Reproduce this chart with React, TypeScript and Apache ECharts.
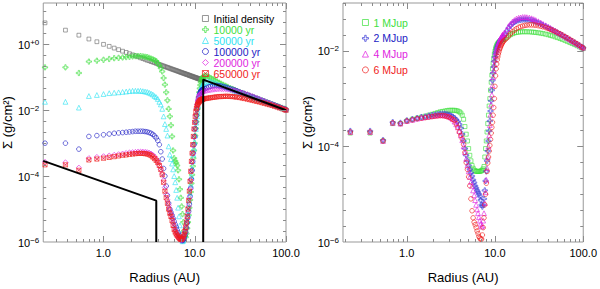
import React, { useEffect, useRef } from 'react';
import * as echarts from 'echarts';

const FONT = '"Liberation Sans", Arial, Helvetica, sans-serif';

// shared radial grid (AU)
const radius = [
  0.23, 0.385, 0.54, 0.695, 0.85, 1.005, 1.16, 1.315, 1.47, 1.625,
  1.78, 1.935, 2.09, 2.245, 2.4, 2.555, 2.71, 2.865, 3.02, 3.175,
  3.33, 3.485, 3.64, 3.795, 3.95, 4.105, 4.26, 4.415, 4.57, 4.725,
  4.88, 5.035, 5.19, 5.345, 5.5, 5.655, 5.81, 5.965, 6.12, 6.275,
  6.43, 6.585, 6.74, 6.895, 7.05, 7.205, 7.36, 7.515, 7.67, 7.825,
  7.98, 8.135, 8.29, 8.445, 8.6, 8.755, 8.91, 9.065, 9.22, 9.375,
  9.53, 9.685, 9.84, 9.995, 10.15, 10.305, 10.46, 10.615, 10.77, 10.925,
  11.08, 11.235, 11.39, 11.545, 11.7, 11.855, 12.01, 12.165, 12.32, 12.475,
  13, 13.6, 14.3, 15, 15.8, 16.6, 17.5, 18.5, 19.5, 20.6,
  21.8, 23, 24.5, 26, 27.5, 29, 31, 33, 35, 37.5,
  40, 42.5, 45, 48, 51, 54.5, 58, 62, 66, 70.5,
  75, 80, 85, 90.5, 96, 100,
];

// ---- left panel: surface density at several times ----
const initialDensity = [
  4.5, 2.7, 1.9, 1.45, 1.2, 1.0, 0.87, 0.77, 0.69, 0.62,
  0.57, 0.52, 0.48, 0.45, 0.42, 0.39, 0.37, 0.35, 0.33, 0.32,
  0.30, 0.29, 0.28, 0.265, 0.255, 0.245, 0.235, 0.227, 0.22, 0.212,
  0.205, 0.2, 0.193, 0.188, 0.182, 0.177, 0.172, 0.168, 0.164, 0.16,
  0.156, 0.152, 0.149, 0.145, 0.142, 0.139, 0.136, 0.133, 0.131, 0.128,
  0.126, 0.123, 0.121, 0.119, 0.117, 0.114, 0.112, 0.11, 0.109, 0.107,
  0.105, 0.103, 0.102, 0.1, 0.099, 0.097, 0.096, 0.094, 0.093, 0.092,
  0.09, 0.089, 0.088, 0.087, 0.086, 0.085, 0.084, 0.083, 0.082, 0.081,
];

const yr10000 = [
  0.2, 0.2, 0.135, 0.3, 0.32, 0.34, 0.36, 0.38, 0.39, 0.40,
  0.41, 0.42, 0.43, 0.44, 0.44, 0.44, 0.43, 0.42, 0.41, 0.39,
  0.37, 0.35, 0.33, 0.31, 0.27, 0.23, 0.19, 0.15, 0.095, 0.06,
  0.035, 0.02, 0.011, 0.0065, 0.0035, 0.0016, 6e-4, 3.5e-4, 2.9e-4, 2.5e-4,
  2.1e-4, 1.5e-4, 8e-5, 4e-5, 2.2e-5, 1.2e-5, 7e-6, 4e-6, 2.2e-6, 1.5e-6,
  1.4e-6, 1.8e-6, 2.6e-6, 4e-6, 6.5e-6, 1.1e-5, 1.9e-5, 3.3e-5, 6e-5, 1.1e-4,
  2e-4, 3.5e-4, 6e-4, 1e-3, 1.7e-3, 2.8e-3, 4.5e-3, 7e-3, 0.011, 0.017,
  0.025, 0.035, 0.046, 0.058, 0.07, 0.08, 0.089, 0.096, 0.102, 0.106,
  0.11, 0.108, 0.102, 0.095, 0.088, 0.081, 0.075, 0.069, 0.064, 0.059,
  0.055, 0.051, 0.047, 0.044, 0.041, 0.038, 0.0355, 0.0333, 0.0313, 0.0291,
  0.0272, 0.0256, 0.0241, 0.0226, 0.0212, 0.0198, 0.0186, 0.0174, 0.0163, 0.0152,
  0.0143, 0.0134, 0.0126, 0.0118, 0.0111, 0.0105,
];

const yr50000 = [
  0.018, 0.018, 0.012, 0.027, 0.029, 0.031, 0.033, 0.034, 0.035, 0.036,
  0.037, 0.038, 0.039, 0.039, 0.039, 0.039, 0.038, 0.037, 0.036, 0.034,
  0.032, 0.03, 0.027, 0.025, 0.022, 0.018, 0.015, 0.011, 0.0065, 0.0038,
  0.0027, 0.0017, 8e-4, 4.5e-4, 3.3e-4, 2.4e-4, 1.6e-4, 1e-4, 6.5e-5, 3.8e-5,
  2.2e-5, 1.1e-5, 6e-6, 3.2e-6, 1.8e-6, 1.2e-6, 1.05e-6, 1.1e-6, 1.3e-6, 1.6e-6,
  2.1e-6, 3e-6, 4.5e-6, 7e-6, 1.1e-5, 1.8e-5, 3e-5, 5.5e-5, 1e-4, 1.7e-4,
  2.8e-4, 4.5e-4, 7e-4, 1.1e-3, 1.7e-3, 2.7e-3, 4.2e-3, 6.5e-3, 9.5e-3, 0.014,
  0.019, 0.025, 0.031, 0.038, 0.044, 0.05, 0.055, 0.059, 0.062, 0.065,
  0.07, 0.073, 0.074, 0.073, 0.071, 0.068, 0.064, 0.06, 0.057, 0.054,
  0.051, 0.048, 0.045, 0.042, 0.039, 0.037, 0.0345, 0.0323, 0.0305, 0.0285,
  0.0267, 0.0251, 0.0237, 0.0222, 0.0209, 0.0195, 0.0183, 0.0171, 0.016, 0.015,
  0.0141, 0.0132, 0.0124, 0.0116, 0.0109, 0.0105,
];

const yr100000 = [
  1e-3, 1e-3, 6.6e-4, 1.6e-3, 1.7e-3, 1.8e-3, 1.9e-3, 2e-3, 2.05e-3, 2.1e-3,
  2.15e-3, 2.2e-3, 2.25e-3, 2.3e-3, 2.3e-3, 2.3e-3, 2.3e-3, 2.25e-3, 2.2e-3, 2.1e-3,
  2e-3, 1.85e-3, 1.65e-3, 1.45e-3, 1.2e-3, 9e-4, 5.5e-4, 3.3e-4, 1.7e-4, 1e-4,
  5e-5, 2.6e-5, 1.5e-5, 1e-5, 8e-6, 6.5e-6, 5.2e-6, 4.2e-6, 3.4e-6, 2.8e-6,
  2.3e-6, 1.9e-6, 1.6e-6, 1.4e-6, 1.25e-6, 1.15e-6, 1.1e-6, 1.15e-6, 1.3e-6, 1.6e-6,
  2e-6, 2.7e-6, 3.8e-6, 5.5e-6, 8.5e-6, 1.4e-5, 2.4e-5, 4.3e-5, 8e-5, 1.5e-4,
  2.8e-4, 5e-4, 9e-4, 1.6e-3, 2.8e-3, 4.5e-3, 7e-3, 0.0105, 0.015, 0.02,
  0.025, 0.029, 0.033, 0.036, 0.038, 0.04, 0.041, 0.042, 0.043, 0.044,
  0.045, 0.048, 0.051, 0.053, 0.055, 0.056, 0.056, 0.055, 0.054, 0.052,
  0.05, 0.048, 0.045, 0.043, 0.041, 0.039, 0.036, 0.034, 0.032, 0.0298,
  0.0278, 0.026, 0.0245, 0.023, 0.0215, 0.0201, 0.0188, 0.0175, 0.0164, 0.0153,
  0.0143, 0.0134, 0.0125, 0.0117, 0.011, 0.0105,
];

const yr200000 = [
  2.7e-4, 2.6e-4, 1.8e-4, 3.5e-4, 3.8e-4, 4e-4, 4.2e-4, 4.4e-4, 4.6e-4, 4.8e-4,
  5e-4, 5.2e-4, 5.3e-4, 5.4e-4, 5.5e-4, 5.5e-4, 5.5e-4, 5.4e-4, 5.3e-4, 5.1e-4,
  4.8e-4, 4.4e-4, 3.9e-4, 3.3e-4, 2.7e-4, 2.1e-4, 1.6e-4, 1.15e-4, 7.5e-5, 4.5e-5,
  2.8e-5, 1.9e-5, 1.3e-5, 9.5e-6, 7e-6, 5.2e-6, 3.8e-6, 2.9e-6, 2.3e-6, 1.9e-6,
  1.6e-6, 1.4e-6, 1.3e-6, 1.2e-6, 1.15e-6, 1.15e-6, 1.2e-6, 1.35e-6, 1.6e-6, 2e-6,
  2.6e-6, 3.5e-6, 5e-6, 7.5e-6, 1.2e-5, 2.2e-5, 4e-5, 7.5e-5, 1.4e-4, 2.6e-4,
  4.8e-4, 8.5e-4, 1.5e-3, 2.6e-3, 4.3e-3, 7e-3, 0.011, 0.015, 0.019, 0.022,
  0.025, 0.027, 0.029, 0.031, 0.032, 0.033, 0.034, 0.035, 0.036, 0.037,
  0.038, 0.039, 0.04, 0.041, 0.042, 0.043, 0.0435, 0.044, 0.044, 0.0438,
  0.0433, 0.0425, 0.0415, 0.0402, 0.039, 0.0375, 0.0357, 0.034, 0.0322, 0.0302,
  0.0283, 0.0265, 0.0249, 0.0232, 0.0216, 0.0201, 0.0187, 0.0174, 0.0162, 0.0151,
  0.0141, 0.0131, 0.0122, 0.0114, 0.0107, 0.0103,
];

const yr650000 = [
  2.2e-4, 2.2e-4, 1.5e-4, 3.1e-4, 3.3e-4, 3.5e-4, 3.7e-4, 3.9e-4, 4.1e-4, 4.3e-4,
  4.4e-4, 4.6e-4, 4.7e-4, 4.8e-4, 4.9e-4, 4.9e-4, 4.9e-4, 4.8e-4, 4.7e-4, 4.5e-4,
  4.2e-4, 3.8e-4, 3.4e-4, 3e-4, 2.6e-4, 2.1e-4, 1.6e-4, 1.1e-4, 6.5e-5, 3.5e-5,
  2.2e-5, 1.5e-5, 1e-5, 7.5e-6, 6e-6, 4.5e-6, 3.2e-6, 2.4e-6, 2e-6, 1.75e-6,
  1.6e-6, 1.45e-6, 1.35e-6, 1.25e-6, 1.2e-6, 1.2e-6, 1.3e-6, 1.45e-6, 1.7e-6, 2.1e-6,
  2.8e-6, 4e-6, 6e-6, 1e-5, 1.8e-5, 3.5e-5, 7e-5, 1.4e-4, 2.8e-4, 5e-4,
  9e-4, 1.6e-3, 2.7e-3, 4.3e-3, 6.5e-3, 9e-3, 0.0115, 0.0135, 0.015, 0.0165,
  0.0175, 0.0185, 0.0193, 0.02, 0.0205, 0.021, 0.0213, 0.0216, 0.0219, 0.0222,
  0.0225, 0.023, 0.0235, 0.024, 0.0245, 0.025, 0.0255, 0.026, 0.026, 0.0263,
  0.0265, 0.0265, 0.0262, 0.026, 0.0255, 0.025, 0.0243, 0.0235, 0.0227, 0.0218,
  0.021, 0.0202, 0.0194, 0.0186, 0.0178, 0.017, 0.0162, 0.0154, 0.0147, 0.014,
  0.0132, 0.0125, 0.0118, 0.0111, 0.0105, 0.01,
];

// black model lines
const blackInnerR = [0.22, 3.8, 3.8];
const blackInnerS = [2.9e-4, 1.8e-5, 1e-6];
const blackOuterR = [12.4, 12.4, 100];
const blackOuterS = [1e-6, 0.085, 0.01];

// ---- right panel: planet masses ----
const mjup1 = [
  1.9e-4, 1.9e-4, 1.3e-4, 3e-4, 3e-4, 3.4e-4, 3.7e-4, 3.9e-4, 4.1e-4, 4.3e-4,
  4.5e-4, 4.7e-4, 4.9e-4, 5.1e-4, 5.3e-4, 5.4e-4, 5.5e-4, 5.6e-4, 5.7e-4, 5.7e-4,
  5.7e-4, 5.7e-4, 5.6e-4, 5.5e-4, 5.3e-4, 5e-4, 4.5e-4, 3.7e-4, 2.6e-4, 1.8e-4,
  1.3e-4, 9e-5, 6.5e-5, 5e-5, 4e-5, 3.5e-5, 3.2e-5, 3.1e-5, 3e-5, 3e-5,
  3e-5, 3e-5, 3e-5, 3.05e-5, 3.1e-5, 3.2e-5, 3.4e-5, 3.8e-5, 6e-5, 9e-5,
  1.3e-4, 2e-4, 3e-4, 4.5e-4, 7e-4, 1e-3, 1.5e-3, 2.2e-3, 3.1e-3, 4.2e-3,
  5.5e-3, 7e-3, 8.5e-3, 9.8e-3, 0.011, 0.012, 0.0128, 0.0135, 0.0141, 0.0146,
  0.015, 0.0154, 0.0158, 0.0161, 0.0164, 0.0167, 0.017, 0.0172, 0.0174, 0.0176,
  0.0178, 0.019, 0.0205, 0.0218, 0.0228, 0.0236, 0.0242, 0.0246, 0.0249, 0.025,
  0.025, 0.025, 0.0249, 0.0247, 0.0245, 0.0242, 0.0238, 0.0234, 0.0229, 0.0223,
  0.0217, 0.021, 0.0204, 0.0196, 0.0189, 0.0181, 0.0173, 0.0165, 0.0157, 0.0149,
  0.0142, 0.0135, 0.0128, 0.0121, 0.0115, 0.0111,
];

const mjup2 = [
  2.1e-4, 2.1e-4, 1.35e-4, 3.2e-4, 3.1e-4, 3.5e-4, 3.7e-4, 3.9e-4, 4.1e-4, 4.2e-4,
  4.4e-4, 4.5e-4, 4.6e-4, 4.7e-4, 4.8e-4, 4.8e-4, 4.8e-4, 4.7e-4, 4.6e-4, 4.4e-4,
  4.2e-4, 3.9e-4, 3.6e-4, 3.3e-4, 2.9e-4, 2.4e-4, 1.8e-4, 1.3e-4, 9e-5, 6.5e-5,
  5e-5, 4e-5, 3.3e-5, 2.8e-5, 2.4e-5, 2e-5, 1.75e-5, 1.5e-5, 1.35e-5, 1.2e-5,
  1.1e-5, 1e-5, 9e-6, 7.5e-6, 6e-6, 5.5e-6, 6e-6, 8e-6, 1.2e-5, 1.9e-5,
  3e-5, 5e-5, 8e-5, 1.3e-4, 2.1e-4, 3.4e-4, 5.5e-4, 9e-4, 1.5e-3, 2.4e-3,
  3.4e-3, 4.6e-3, 6e-3, 7.3e-3, 8.5e-3, 9.6e-3, 0.0107, 0.0117, 0.0126, 0.0134,
  0.0142, 0.015, 0.0157, 0.0164, 0.017, 0.0176, 0.0182, 0.0188, 0.0194, 0.02,
  0.022, 0.026, 0.03, 0.034, 0.037, 0.04, 0.042, 0.0435, 0.0445, 0.045,
  0.0452, 0.045, 0.0445, 0.0435, 0.042, 0.0405, 0.0385, 0.0365, 0.0345, 0.0325,
  0.0305, 0.0287, 0.0271, 0.0255, 0.024, 0.0225, 0.0211, 0.0197, 0.0184, 0.0171,
  0.016, 0.0149, 0.0139, 0.013, 0.0121, 0.0116,
];

const mjup4 = [
  2e-4, 2e-4, 1.3e-4, 3.1e-4, 3e-4, 3.4e-4, 3.6e-4, 3.8e-4, 3.95e-4, 4.1e-4,
  4.2e-4, 4.3e-4, 4.4e-4, 4.5e-4, 4.5e-4, 4.5e-4, 4.45e-4, 4.35e-4, 4.2e-4, 4e-4,
  3.7e-4, 3.3e-4, 2.9e-4, 2.5e-4, 2.1e-4, 1.7e-4, 1.35e-4, 1e-4, 7.5e-5, 5.5e-5,
  4e-5, 3e-5, 2.3e-5, 1.8e-5, 1.5e-5, 1.2e-5, 9.5e-6, 7.5e-6, 6e-6, 4.8e-6,
  4e-6, 3.3e-6, 2.8e-6, 2.4e-6, 2.1e-6, 2.2e-6, 2.8e-6, 4e-6, 6.5e-6, 1.1e-5,
  2e-5, 3.5e-5, 6e-5, 1e-4, 1.7e-4, 2.8e-4, 4.6e-4, 7.5e-4, 1.2e-3, 1.9e-3,
  2.8e-3, 3.9e-3, 5.2e-3, 6.6e-3, 8e-3, 9.3e-3, 0.0106, 0.0118, 0.013, 0.0141,
  0.0152, 0.0162, 0.0172, 0.0181, 0.019, 0.0198, 0.0206, 0.0213, 0.022, 0.0226,
  0.024, 0.028, 0.033, 0.037, 0.041, 0.044, 0.047, 0.049, 0.05, 0.051,
  0.051, 0.0505, 0.0495, 0.048, 0.046, 0.044, 0.0415, 0.039, 0.0367, 0.0342,
  0.032, 0.03, 0.0282, 0.0264, 0.0247, 0.023, 0.0215, 0.02, 0.0186, 0.0173,
  0.0161, 0.015, 0.014, 0.013, 0.0121, 0.0116,
];

const mjup6 = [
  2e-4, 2e-4, 1.3e-4, 3.1e-4, 3e-4, 3.4e-4, 3.6e-4, 3.8e-4, 3.9e-4, 4e-4,
  4.1e-4, 4.2e-4, 4.3e-4, 4.35e-4, 4.4e-4, 4.4e-4, 4.35e-4, 4.2e-4, 4.1e-4, 3.9e-4,
  3.7e-4, 3.5e-4, 3e-4, 2.5e-4, 2e-4, 1.7e-4, 1.45e-4, 1.1e-4, 7.5e-5, 4.6e-5,
  3.3e-5, 2.3e-5, 1.5e-5, 8e-6, 4.5e-6, 3.2e-6, 2.6e-6, 2.3e-6, 2e-6, 1.7e-6,
  1.5e-6, 1.3e-6, 1.2e-6, 1.15e-6, 1.15e-6, 1.4e-6, 2e-6, 3.2e-6, 6e-6, 1e-5,
  1.7e-5, 3e-5, 4.5e-5, 6e-5, 8e-5, 1.05e-4, 1.4e-4, 1.9e-4, 2.5e-4, 3.2e-4,
  4.5e-4, 6.5e-4, 1e-3, 1.8e-3, 3e-3, 4.2e-3, 5.3e-3, 6.5e-3, 7.5e-3, 8.5e-3,
  9.5e-3, 0.0105, 0.0113, 0.012, 0.0128, 0.0135, 0.0142, 0.0148, 0.0154, 0.016,
  0.017, 0.0185, 0.0205, 0.023, 0.025, 0.027, 0.029, 0.031, 0.032, 0.033,
  0.034, 0.0345, 0.035, 0.035, 0.0348, 0.0343, 0.0336, 0.0328, 0.0318, 0.0306,
  0.0293, 0.028, 0.0268, 0.0255, 0.0241, 0.0227, 0.0213, 0.0199, 0.0186, 0.0173,
  0.0161, 0.015, 0.014, 0.013, 0.012, 0.0115,
];

// tick values
const xMajorTicks = [1, 10, 100];
const xMinorTicks = [0.2, 0.3, 0.4, 0.5, 0.6, 0.7, 0.8, 0.9, 2, 3, 4, 5, 6, 7, 8, 9, 20, 30, 40, 50, 60, 70, 80, 90];
const yMajorTicks = [1e-6, 1e-4, 1e-2, 1];
const yMinorTicks = [2.154e-6, 4.642e-6, 1e-5, 2.154e-5, 4.642e-5, 2.154e-4, 4.642e-4, 1e-3, 2.154e-3, 4.642e-3,
  2.154e-2, 4.642e-2, 0.1, 0.2154, 0.4642, 2.154, 4.642, 10];

const C = {
  grey: '#6e6e6e',
  green: '#3ee03e',
  cyan: '#2ee2f2',
  blue: '#1c1cc4',
  magenta: '#e01ee0',
  red: '#f01c1c',
  blue2: '#3a3ad8',
};

const SYM_PLUS = 'path://M3,0H5V3H8V5H5V8H3V5H0V3H3Z';
const SYM_BOXX = 'path://M0,0H10V10H0ZM0,0L10,10M10,0L0,10';

const hollow = (c: string) => ({ color: 'rgba(0,0,0,0)', borderColor: c, borderWidth: 0.8 });

function scatter(name: string, grid: number, vals: number[], color: string, symbol: string, size: number) {
  return {
    type: 'scatter',
    name,
    xAxisIndex: grid,
    yAxisIndex: grid,
    symbol,
    symbolSize: size,
    itemStyle: hollow(color),
    clip: true,
    silent: true,
    data: vals.map((v, i) => [radius[i], v]),
  };
}

function tickSeries(grid: number, dim: 'x' | 'y', values: number[], len: number) {
  return {
    type: 'custom',
    xAxisIndex: grid,
    yAxisIndex: grid,
    silent: true,
    clip: true,
    z: 6,
    data: values.map((v) => (dim === 'x' ? [v, 1e-3] : [1, v])),
    renderItem: (params: any, api: any) => {
      const cs = params.coordSys;
      const style = { stroke: '#8a8a8a', lineWidth: 1 };
      if (dim === 'x') {
        const p = Math.round(api.coord([api.value(0), 1e-3])[0]) + 0.5;
        const b = cs.y + cs.height;
        return {
          type: 'group',
          children: [
            { type: 'line', shape: { x1: p, y1: b, x2: p, y2: b - len }, style },
            { type: 'line', shape: { x1: p, y1: cs.y, x2: p, y2: cs.y + len }, style },
          ],
        };
      }
      const q = Math.round(api.coord([1, api.value(1)])[1]) + 0.5;
      const r = cs.x + cs.width;
      return {
        type: 'group',
        children: [
          { type: 'line', shape: { x1: cs.x, y1: q, x2: cs.x + len, y2: q }, style },
          { type: 'line', shape: { x1: r, y1: q, x2: r - len, y2: q }, style },
        ],
      };
    },
  };
}

const xLabel = (v: number) => {
  const lg = Math.log10(v);
  const e = Math.round(lg);
  if (Math.abs(lg - e) > 0.02) return '';
  return v.toFixed(1);
};
const yLabel = (v: number) => {
  const lg = Math.log10(v);
  const e = Math.round(lg);
  if (Math.abs(lg - e) > 0.02 || e % 2 !== 0) return '';
  return `{b|10}{s|${e >= 0 ? '+' : '\u2212'}${Math.abs(e)}}`;
};

const richLabel = {
  b: { fontSize: 11, fontFamily: FONT, color: '#000', verticalAlign: 'bottom', lineHeight: 12 },
  s: { fontSize: 8, fontFamily: FONT, color: '#000', verticalAlign: 'top', lineHeight: 9, padding: [0, 0, 5, 0] },
};

function xAxis(grid: number, min: number) {
  return {
    gridIndex: grid,
    type: 'log',
    min,
    max: 100,
    axisLine: { show: false },
    axisTick: { show: false },
    splitLine: { show: false },
    axisLabel: { formatter: xLabel, margin: 5, fontSize: 11, color: '#000', fontFamily: FONT, showMinLabel: false },
    name: 'Radius (AU)',
    nameLocation: 'middle',
    nameGap: 29,
    nameTextStyle: { fontSize: 13, color: '#000', fontFamily: FONT },
  };
}
function yAxis(grid: number, min: number, max: number) {
  return {
    gridIndex: grid,
    type: 'log',
    min,
    max,
    axisLine: { show: false },
    axisTick: { show: false },
    splitLine: { show: false },
    axisLabel: { formatter: yLabel, margin: 4, rich: richLabel, showMaxLabel: false },
    name: 'Σ (g/cm²)',
    nameLocation: 'middle',
    nameGap: 24,
    nameTextStyle: { fontSize: 13, color: '#000', fontFamily: FONT },
  };
}

const leftNames = ['Initial density', '10000 yr', '50000 yr', '100000 yr', '200000 yr', '650000 yr'];
const leftColors = ['#000', C.green, C.cyan, C.blue, C.magenta, C.red];
const leftIconColors = [C.grey, C.green, C.cyan, C.blue, C.magenta, C.red];
const leftIcons = ['rect', SYM_PLUS, 'triangle', 'circle', 'diamond', SYM_BOXX];
const rightNames = ['1 MJup', '2 MJup', '4 MJup', '6 MJup'];
const rightColors = [C.green, C.blue, C.magenta, C.red];
const rightIconColors = [C.green, C.blue2, C.magenta, C.red];
const rightIcons = ['rect', SYM_PLUS, 'triangle', 'circle'];

export default function App() {
  const ref = useRef<HTMLDivElement>(null);
  useEffect(() => {
    if (!ref.current) return;
    const chart = echarts.init(ref.current, undefined, { renderer: 'svg' });
    const option: any = {
      animation: false,
      backgroundColor: '#fff',
      textStyle: { fontFamily: FONT },
      grid: [
        { left: 43, top: 3, width: 243, height: 241.5, show: true, borderColor: '#999', borderWidth: 1, backgroundColor: 'transparent' },
        { left: 343, top: 3, width: 244, height: 241.5, show: true, borderColor: '#999', borderWidth: 1, backgroundColor: 'transparent' },
      ],
      xAxis: [xAxis(0, 0.22), xAxis(1, 0.19)],
      yAxis: [yAxis(0, 1e-6, 18), yAxis(1, 1e-6, 0.1)],
      legend: [
        {
          orient: 'vertical', left: 197, top: 8, itemWidth: 6, itemHeight: 6, itemGap: 0,
          selectedMode: false,
          textStyle: { fontSize: 10.5, fontFamily: FONT, lineHeight: 10 },
          data: leftNames.map((n, i) => ({
            name: n,
            icon: leftIcons[i],
            itemStyle: { color: 'rgba(0,0,0,0)', borderColor: leftIconColors[i], borderWidth: 0.9 },
            textStyle: { color: leftColors[i] },
          })),
        },
        {
          orient: 'vertical', left: 357, top: 12, itemWidth: 6, itemHeight: 6, itemGap: 4.8,
          selectedMode: false,
          textStyle: { fontSize: 10.5, fontFamily: FONT, lineHeight: 10 },
          data: rightNames.map((n, i) => ({
            name: n,
            icon: rightIcons[i],
            itemStyle: { color: 'rgba(0,0,0,0)', borderColor: rightIconColors[i], borderWidth: 0.9 },
            textStyle: { color: rightColors[i] },
          })),
        },
      ],
      series: [
        scatter('Initial density', 0, initialDensity, C.grey, 'rect', 3.8),
        scatter('10000 yr', 0, yr10000, C.green, SYM_PLUS, 5.2),
        scatter('50000 yr', 0, yr50000, C.cyan, 'triangle', 4.8),
        scatter('100000 yr', 0, yr100000, C.blue, 'circle', 4.6),
        scatter('200000 yr', 0, yr200000, C.magenta, 'diamond', 5.2),
        scatter('650000 yr', 0, yr650000, C.red, SYM_BOXX, 4.2),
        {
          type: 'line', xAxisIndex: 0, yAxisIndex: 0, symbol: 'none', silent: true, z: 4,
          lineStyle: { color: '#000', width: 2 },
          data: blackInnerR.map((r, i) => [r, blackInnerS[i]]),
        },
        {
          type: 'line', xAxisIndex: 0, yAxisIndex: 0, symbol: 'none', silent: true, z: 4,
          lineStyle: { color: '#000', width: 2 },
          data: blackOuterR.map((r, i) => [r, blackOuterS[i]]),
        },
        scatter('1 MJup', 1, mjup1, C.green, 'rect', 4),
        scatter('2 MJup', 1, mjup2, C.blue2, SYM_PLUS, 5.2),
        scatter('4 MJup', 1, mjup4, C.magenta, 'triangle', 4.8),
        scatter('6 MJup', 1, mjup6, C.red, 'circle', 4.6),
        tickSeries(0, 'x', xMajorTicks, 6),
        tickSeries(0, 'x', xMinorTicks, 3),
        tickSeries(0, 'y', yMajorTicks, 6),
        tickSeries(0, 'y', yMinorTicks, 3),
        tickSeries(1, 'x', xMajorTicks, 6),
        tickSeries(1, 'x', xMinorTicks, 3),
        tickSeries(1, 'y', yMajorTicks, 6),
        tickSeries(1, 'y', yMinorTicks, 3),
      ],
    };
    chart.setOption(option);
    return () => chart.dispose();
  }, []);
  return (
    <div
      ref={ref}
      style={{ position: 'fixed', left: 0, top: 0, width: 600, height: 289, background: '#fff' }}
    />
  );
}
